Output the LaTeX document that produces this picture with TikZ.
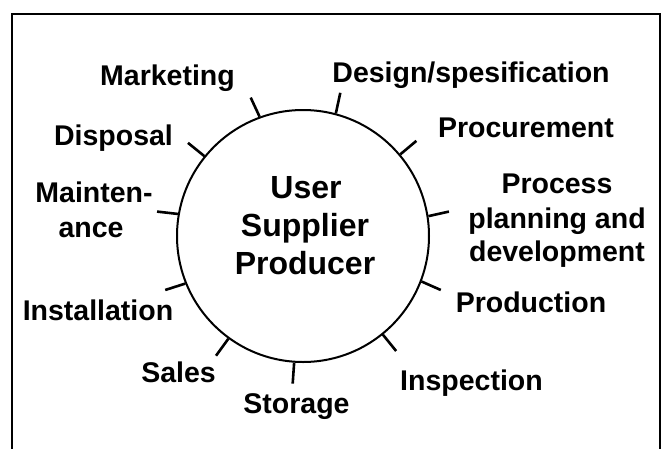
\documentclass[tikz,border=0pt]{standalone}
\usepackage{fontspec}
\setmainfont{Liberation Sans}
\usetikzlibrary{calc}
\begin{document}
\begin{tikzpicture}[x=1pt,y=-1pt,
  lbl/.style={font=\fontsize{28.5}{34}\selectfont\bfseries, inner sep=0pt, anchor=base},
  ctr/.style={font=\fontsize{32}{38}\selectfont\bfseries, inner sep=0pt, anchor=base},
  tick/.style={line width=2.6pt},
  frame/.style={line width=1.6pt}]
\useasboundingbox (0,0) rectangle (665,448);
\coordinate (fbl) at (12,452);
\coordinate (ftl) at (12,14);
\coordinate (ftr) at (660,14);
\coordinate (fbr) at (660,452);
\draw[frame] (fbl) -- (ftl) -- (ftr) -- (fbr);
\node[circle, draw, line width=2pt, minimum size=252pt, inner sep=0pt] (c) at (303,236) {};
\foreach \a/\n in {110.7/mk, 75.4/ds, 40/pc, 9.5/pp, -21.4/pd, -51/in, -94/st, -126/sa, -158.6/is, 170.5/mt, 141/dp}{
  \coordinate (\n o) at ($(c.center)+(\a:148pt)$);
  \draw[tick] (c.\a) -- (\n o);
}
\node[lbl] (marketing) at (167.5,85) {Marketing};
\node[lbl] (design) at (471,82) {Design/spesification};
\node[lbl] (procurement) at (526,137) {Procurement};
\node[lbl] (disposal) at (113.5,145) {Disposal};
\node[lbl] (process1) at (557,193) {Process};
\node[lbl] (process2) at (557,228) {planning and};
\node[lbl] (process3) at (557,261) {development};
\node[lbl] (production) at (531,312) {Production};
\node[lbl] (inspection) at (471.5,390) {Inspection};
\node[lbl] (storage) at (296.5,413) {Storage};
\node[lbl] (sales) at (178.5,382) {Sales};
\node[lbl] (installation) at (98,320) {Installation};
\node[lbl] (maint1) at (94,202) {Mainten-};
\node[lbl] (maint2) at (91,237) {ance};
\node[ctr] (user) at (306,198) {User};
\node[ctr] (supplier) at (305,236) {Supplier};
\node[ctr] (producer) at (305,274) {Producer};
\end{tikzpicture}
\end{document}
